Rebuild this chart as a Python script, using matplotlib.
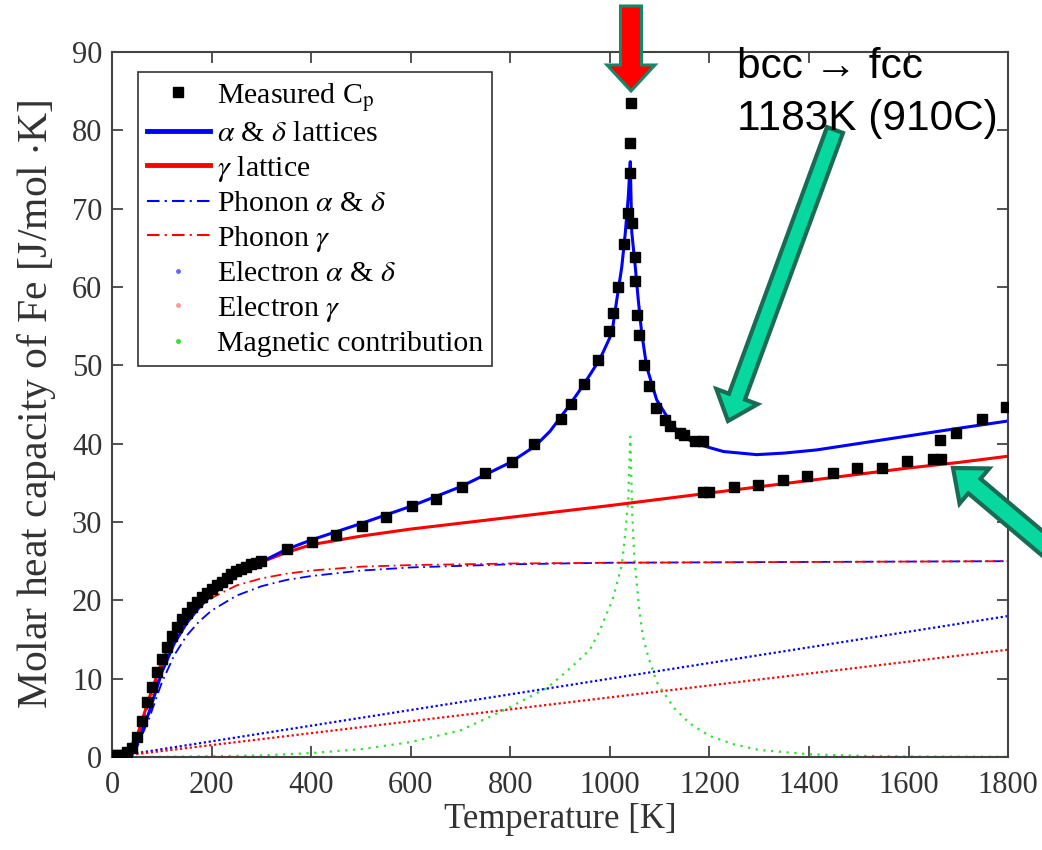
import matplotlib
matplotlib.use("Agg")
import matplotlib.pyplot as plt
from matplotlib.lines import Line2D
from matplotlib.patches import FancyArrow

plt.rcParams['font.family'] = ['Liberation Serif', 'DejaVu Serif']
plt.rcParams['mathtext.fontset'] = 'stix'

# measured Cp of iron
T_meas = [0, 10, 20, 30, 40, 50, 60, 70, 80, 90, 100, 110, 120, 130, 140, 150,
          160, 170, 180, 190, 200, 210, 220, 230, 240, 250, 260, 270, 280, 290, 300,
          351, 401, 450, 503, 550, 602, 650, 702, 749, 803, 848, 902, 922, 949, 977,
          998, 1007, 1017, 1028, 1036, 1040, 1041, 1043, 1044, 1051, 1051, 1055, 1059,
          1069, 1079, 1092, 1111, 1121, 1141, 1148, 1172, 1188, 1188, 1200, 1249, 1298,
          1348, 1395, 1449, 1496, 1546, 1596, 1650, 1665, 1663, 1695, 1747, 1796]
Cp_meas = [0.2, 0.2, 0.3, 0.6, 1.2, 2.6, 4.6, 7.0, 9.0, 10.9, 12.5, 14.0, 15.4, 16.6, 17.6, 18.4,
           19.2, 19.8, 20.4, 20.9, 21.4, 21.9, 22.4, 22.9, 23.3, 23.7, 24.0, 24.3, 24.6, 24.8, 25.0,
           26.5, 27.5, 28.4, 29.5, 30.7, 32.1, 33.0, 34.5, 36.2, 37.7, 40.0, 43.1, 45.1, 47.6, 50.7,
           54.4, 56.7, 60.0, 65.5, 69.4, 74.6, 78.4, 83.5, 68.2, 63.8, 60.8, 56.4, 53.9,
           50.1, 47.3, 44.6, 43.0, 42.2, 41.3, 41.1, 40.3, 40.3, 33.8, 33.8, 34.5, 34.7,
           35.4, 35.9, 36.2, 36.9, 36.9, 37.8, 38.1, 38.1, 40.5, 41.4, 43.1, 44.7]

# model: alpha & delta lattice (bcc)
T_bcc = [0, 25, 50, 75, 100, 125, 150, 175, 200, 250, 300, 350, 400, 500, 600, 700, 800,
         850, 880, 913, 946, 980, 1004, 1014, 1024, 1031, 1037, 1041, 1044, 1051, 1057, 1064,
         1074, 1094, 1127, 1167, 1228, 1295, 1350, 1415, 1549, 1683, 1800]
Cp_bcc = [0, 0.1, 1.6, 5.8, 10.8, 14.5, 17.1, 19.1, 20.7, 23.1, 24.9, 26.5, 27.7, 29.8, 32.0, 34.5, 37.6,
          39.7, 41.6, 44.4, 47.4, 50.8, 54.1, 58.4, 62.6, 66.9, 71.5, 76.0, 67.0, 62.6, 58.4, 54.1,
          49.8, 45.6, 42.2, 40.1, 39.0, 38.6, 38.8, 39.2, 40.5, 41.8, 42.9]

# model: gamma lattice (fcc)
T_fcc = [0, 25, 50, 75, 100, 125, 150, 175, 200, 250, 300, 350, 400, 500, 600, 700, 800,
         900, 1000, 1100, 1200, 1300, 1400, 1500, 1600, 1700, 1800]
Cp_fcc = [0, 0.2, 2.6, 7.6, 12.2, 15.6, 18.0, 19.8, 21.2, 23.3, 24.9, 26.1, 27.1, 28.2, 29.1, 29.85, 30.6,
          31.35, 32.1, 32.9, 33.7, 34.5, 35.3, 36.1, 36.9, 37.6, 38.4]

# phonon parts
T_ph = [0, 30, 50, 75, 100, 125, 150, 175, 200, 250, 300, 350, 400, 500, 600, 800, 1000, 1400, 1800]
ph_bcc = [0, 0.1, 1.2, 5.0, 9.5, 13.0, 15.5, 17.3, 18.7, 20.6, 21.8, 22.6, 23.1, 23.8, 24.2, 24.6, 24.8, 24.9, 25.0]
ph_fcc = [0, 0.2, 2.2, 7.0, 11.5, 15.0, 17.3, 19.0, 20.3, 21.9, 22.8, 23.4, 23.8, 24.3, 24.5, 24.7, 24.8, 24.9, 25.0]

# electron parts
T_el = [0, 1800]
el_bcc = [0, 18.0]
el_fcc = [0, 13.7]

# magnetic part
T_mag = [0, 100, 200, 300, 400, 500, 600, 700, 785, 873, 900, 930, 960, 978, 995, 1005, 1014,
         1024, 1032, 1037, 1041, 1045, 1049, 1059, 1067, 1077, 1094, 1107, 1130, 1160, 1200,
         1250, 1300, 1400, 1500, 1600, 1800]
Cp_mag = [0, 0.02, 0.1, 0.2, 0.5, 1.0, 1.9, 3.4, 5.9, 8.8, 10.2, 11.9, 13.7, 15.9, 18.5, 20.0, 22.1,
          24.5, 29.2, 33.0, 40.9, 31.0, 25.6, 18.8, 15.2, 12.8, 9.6, 8.3, 6.2, 4.3, 2.7,
          1.6, 0.9, 0.35, 0.15, 0.07, 0.02]

blue = '#0000ff'
red = '#ff0000'
green = '#33e033'
dashdot = (0, (6, 2.5, 1, 2.5))

fig = plt.figure(figsize=(10.42, 8.5), dpi=100)
ax = fig.add_axes([0.1075, 0.1094, 0.86, 0.8294])

ax.plot(T_el, el_bcc, color=blue, lw=1.6, ls=(0, (1, 1.2)))
ax.plot(T_el, el_fcc, color=red, lw=1.6, ls=(0, (1, 1.2)))
ax.plot(T_mag, Cp_mag, color=green, lw=1.6, ls=(0, (1, 2.5)))
ax.plot(T_ph, ph_bcc, color=blue, lw=1.3, ls=dashdot)
ax.plot(T_ph, ph_fcc, color=red, lw=1.3, ls=dashdot)
ax.plot(T_fcc, Cp_fcc, color=red, lw=2.2)
ax.plot(T_bcc, Cp_bcc, color=blue, lw=2.2)
ax.plot(T_meas, Cp_meas, 's', color='black', ms=7, zorder=3)

ax.set_xlim(0, 1800)
ax.set_ylim(0, 90)
ax.set_xticks(range(0, 1801, 200))
ax.set_yticks(range(0, 91, 10))
ax.tick_params(direction='in', length=8, width=1.2, top=True, right=True,
               labelsize=22, colors='#333333')
ax.tick_params(axis='x', pad=10)
ax.tick_params(axis='y', pad=7)
for s in ax.spines.values():
    s.set_color('#444444')
    s.set_linewidth(1.5)
ax.set_xlabel('Temperature [K]', fontsize=25, color='#333333', labelpad=2)
ax.set_ylabel('Molar heat capacity of Fe [J/mol $\\cdot$K]', fontsize=30, color='#333333', labelpad=10)

handles = [
    Line2D([], [], marker='s', color='black', ls='none', ms=7),
    Line2D([], [], color=blue, lw=3.5),
    Line2D([], [], color=red, lw=3.5),
    Line2D([], [], color=blue, lw=1.5, ls=dashdot),
    Line2D([], [], color=red, lw=1.5, ls=dashdot),
    Line2D([], [], marker='o', color='#6666ff', ls='none', ms=2.5),
    Line2D([], [], marker='o', color='#ff9999', ls='none', ms=2.5),
    Line2D([], [], marker='o', color=green, ls='none', ms=2.5),
]
labels = ['Measured C$_\\mathrm{p}$', r'$\alpha$ & $\delta$ lattices', r'$\gamma$ lattice',
          r'Phonon $\alpha$ & $\delta$', r'Phonon $\gamma$', r'Electron $\alpha$ & $\delta$',
          r'Electron $\gamma$', 'Magnetic contribution']
leg = ax.legend(handles, labels, loc='upper left', bbox_to_anchor=(0.029, 0.972),
                borderaxespad=0, fontsize=21.5, handlelength=2.1, handletextpad=0.25,
                labelspacing=0.22, borderpad=0.3, fancybox=False, framealpha=1)
leg.get_frame().set_edgecolor('#333333')
leg.get_frame().set_linewidth(1.2)

# overlay in pixel coordinates for the annotation arrows and text
ov = fig.add_axes([0, 0, 1, 1])
ov.set_xlim(0, 1042)
ov.set_ylim(850, 0)
ov.axis('off')

ov.add_patch(FancyArrow(631, 6, 0, 85, width=21, head_width=48, head_length=26,
                        length_includes_head=True, fc=red, ec='#16876a', lw=2.2))
ov.add_patch(FancyArrow(835, 130, -107, 291, width=17, head_width=44, head_length=26,
                        length_includes_head=True, fc='#06d8a0', ec='#1b6b54', lw=3))
ov.add_patch(FancyArrow(1144, 629, -191, -161, width=19, head_width=46, head_length=28,
                        length_includes_head=True, fc='#06d8a0', ec='#1b6b54', lw=3))

ov.text(737, 78, 'bcc \u2192 fcc', fontsize=30.5, family=['Liberation Sans', 'DejaVu Sans'],
        va='baseline', ha='left')
ov.text(737, 130, '1183K (910C)', fontsize=30.5, family=['Liberation Sans', 'DejaVu Sans'],
        va='baseline', ha='left')

fig.savefig('out.png', dpi=100)
